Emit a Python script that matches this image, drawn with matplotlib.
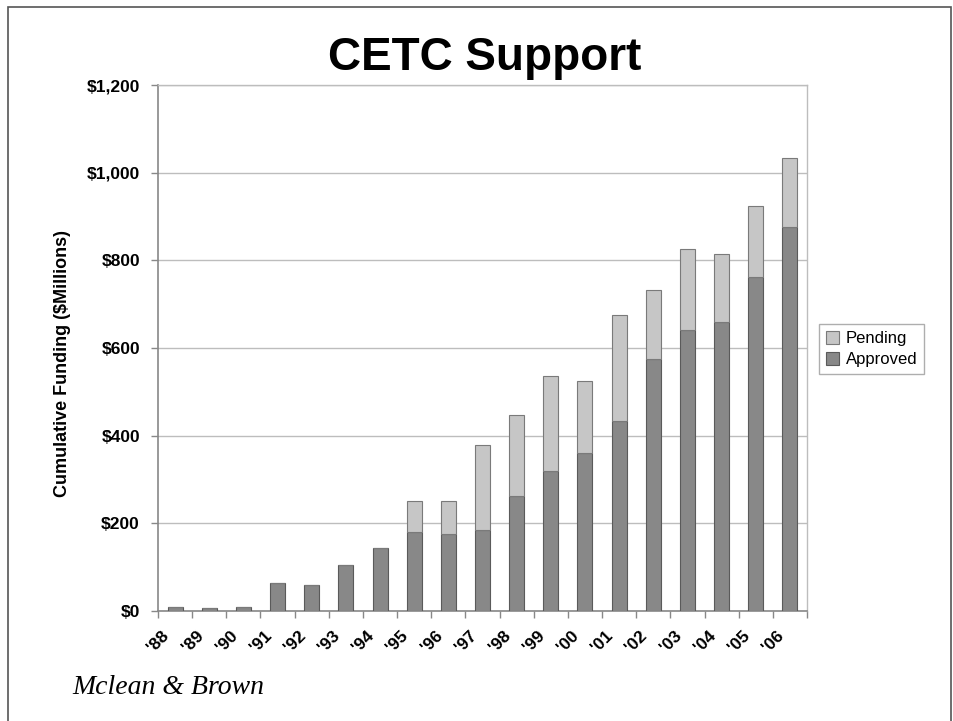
import matplotlib
matplotlib.use("Agg")
import matplotlib.pyplot as plt
import numpy as np
from matplotlib.patches import Rectangle

plt.rcParams['font.family'] = ['Liberation Sans', 'DejaVu Sans']

# funding per fiscal year, $ millions (cumulative)
years = ["'88", "'89", "'90", "'91", "'92", "'93", "'94", "'95", "'96", "'97",
         "'98", "'99", "'00", "'01", "'02", "'03", "'04", "'05", "'06"]
approved = [9, 7, 9, 64, 59, 105, 144, 180, 176, 185,
            262, 319, 360, 433, 575, 641, 659, 762, 876]
pending = [0, 0, 0, 0, 0, 0, 0, 71, 75, 194,
           185, 217, 165, 242, 157, 185, 156, 162, 158]
yticks = [0, 200, 400, 600, 800, 1000, 1200]
ytick_labels = ['$0', '$200', '$400', '$600', '$800', '$1,000', '$1,200']

fig = plt.figure(figsize=(9.54, 7.21), dpi=100)
ax = fig.add_axes([158 / 954, 1 - 611 / 721, (807 - 158) / 954, (611 - 85) / 721])

x = np.arange(len(years))
w = 0.44
ax.bar(x, approved, w, color='#888888', edgecolor='#5a5a5a', linewidth=0.8,
       label='Approved', zorder=3)
ax.bar(x, pending, w, bottom=approved, color='#c6c6c6', edgecolor='#7a7a7a',
       linewidth=0.8, label='Pending', zorder=3)

ax.set_xlim(-0.5, len(years) - 0.5)
ax.set_ylim(0, 1200)
ax.set_yticks(yticks)
ax.set_yticklabels(ytick_labels, fontsize=12.5, fontweight='bold')
# slanted year labels sit a little left of their bars
ax.set_xticks(x - 0.4)
ax.set_xticklabels(years, fontsize=12.5, fontweight='bold', rotation=45,
                   ha='right', va='top', rotation_mode='anchor')
ax.set_xticks(np.arange(-0.5, len(years)), minor=True)
ax.tick_params(axis='x', which='major', length=0, pad=12)
ax.tick_params(axis='x', which='minor', length=5, color='#888888', width=1)
ax.tick_params(axis='y', length=5, color='#888888', width=1, pad=8)

ax.yaxis.grid(True, color='#bdbdbd', linewidth=1, zorder=0)
for side in ['left', 'bottom']:
    ax.spines[side].set_color('#888888')
    ax.spines[side].set_linewidth(1.2)
for side in ['top', 'right']:
    ax.spines[side].set_color('#bdbdbd')
    ax.spines[side].set_linewidth(1)

ax.set_ylabel('Cumulative Funding ($Millions)', fontsize=13, fontweight='bold')
ax.yaxis.set_label_coords(-0.134, 0.47)

handles, labels = ax.get_legend_handles_labels()
leg = fig.legend(handles[::-1], labels[::-1], loc='center left',
                 bbox_to_anchor=(811 / 954, 1 - 349 / 721), fontsize=12,
                 frameon=True, fancybox=False, edgecolor='#9a9a9a',
                 handlelength=0.8, handleheight=0.8, handletextpad=0.4,
                 borderpad=0.4, labelspacing=0.35)
leg.get_frame().set_linewidth(1)

fig.text(485 / 954, 1 - 70 / 721, 'CETC Support', ha='center', va='baseline',
         fontsize=33, fontweight='bold')
fig.text(72 / 954, 1 - 688 / 721, 'Mclean & Brown', ha='left', va='center',
         fontsize=20, fontstyle='italic', family='Liberation Serif')

# slide border
fig.patches.append(Rectangle((8 / 954, -0.05), (951 - 8) / 954, 1.05 - 7 / 721,
                             transform=fig.transFigure, fill=False,
                             edgecolor='#555555', linewidth=1.2))

fig.savefig('out.png', dpi=100)
